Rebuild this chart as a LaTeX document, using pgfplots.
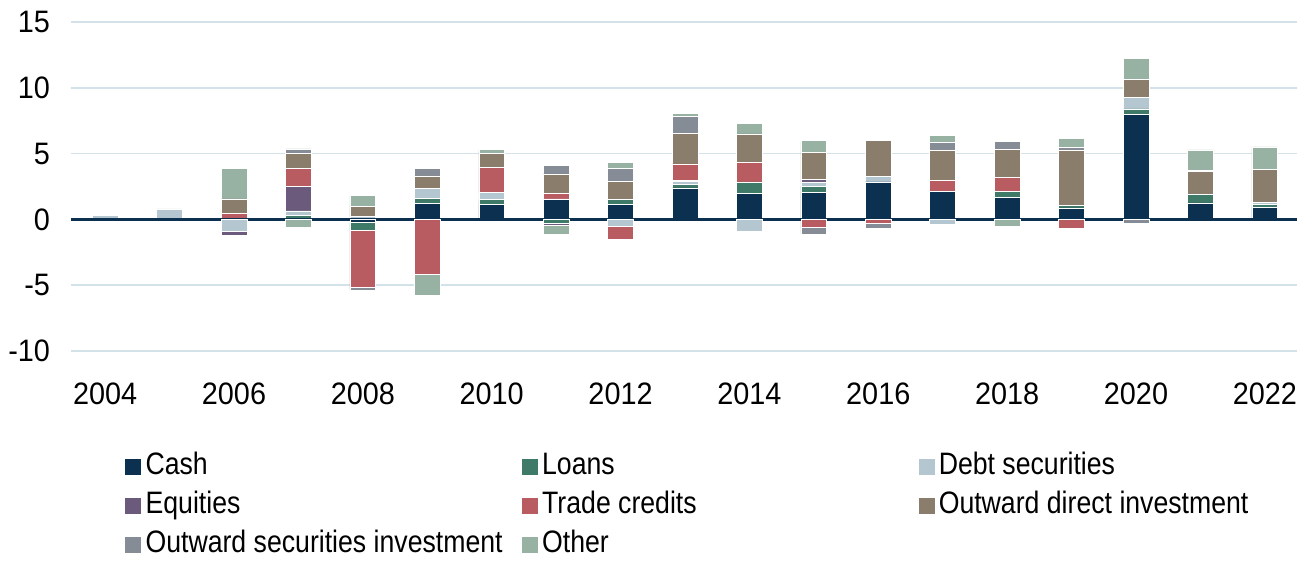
\documentclass[border=0pt]{standalone}
\usepackage{fontspec}
\setmainfont{Liberation Sans}[FakeStretch=0.86]
\newfontfamily\tickfont{Liberation Sans}[FakeStretch=0.93]
\usepackage{pgfplots}
\usepackage{pgfplotstable}
\pgfplotsset{compat=1.18}

\definecolor{ccash}{HTML}{0B3050}
\definecolor{cloans}{HTML}{3F7A68}
\definecolor{cdebt}{HTML}{B4C6D0}
\definecolor{ceq}{HTML}{6B5A7B}
\definecolor{ctrade}{HTML}{B85C62}
\definecolor{codi}{HTML}{8B7D6B}
\definecolor{cosi}{HTML}{858C96}
\definecolor{cother}{HTML}{97B1A3}
\definecolor{cgrid}{HTML}{D3E2E9}

\pgfplotstableread{
year cash loans debt eq trade odi osi other
2004 0 0 0.3 0 0 0 0 0
2005 0 0 0.8 0 0 0 0 0
2006 0 0 0 0 0.45 1.1 0 2.3
2007 0 0.3 0.35 1.85 1.4 1.1 0.35 0
2008 0 0 0.2 0 0 0.8 0 0.8
2009 1.2 0.4 0.75 0 0 0.95 0.6 0
2010 1.15 0.38 0.5 0 1.9 1.08 0 0.3
2011 1.5 0 0.05 0 0.4 1.5 0.65 0
2012 1.15 0.35 0 0 0 1.4 0.95 0.5
2013 2.4 0.25 0.22 0.1 1.25 2.3 1.3 0.25
2014 2.0 0.85 0 0 1.5 2.15 0 0.8
2015 2.07 0.43 0.33 0.18 0 2.1 0 0.88
2016 2.85 0 0.43 0 0 2.7 0 0
2017 2.1 0.05 0 0 0.8 2.3 0.58 0.58
2018 1.65 0.5 0 0 1.04 2.1 0.65 0
2019 0.88 0.2 0 0 0 4.17 0.25 0.68
2020 7.95 0.45 0.85 0 0 1.4 0 1.57
2021 1.26 0.63 0 0 0 1.77 0.05 1.57
2022 0.9 0.23 0.18 0 0 2.5 0 1.7
}\postable

\pgfplotstableread{
year cash loans debt eq trade odi osi other
2004 0 0 0 0 0 0 0 0
2005 0 0 0 0 0 0 0 0
2006 0 0 -0.9 -0.3 0 0 0 0
2007 0 0 0 0 0 0 0 -0.6
2008 -0.25 -0.58 0 0 -4.3 0 -0.26 0
2009 0 0 0 0 -4.2 0 0 -1.6
2010 0 0 0 0 0 0 0 0
2011 0 -0.3 0 -0.15 0 0 0 -0.7
2012 0 0 -0.55 0 -0.95 0 0 0
2013 0 0 0 0 0 0 0 0
2014 0 0 -0.9 0 0 0 0 0
2015 0 0 0 0 -0.6 0 -0.5 0
2016 0 0 0 0 -0.3 0 -0.38 0
2017 0 0 -0.4 0 0 0 0 0
2018 0 0 0 0 0 0 0 -0.5
2019 0 0 0 0 -0.7 0 0 0
2020 0 0 0 0 0 0 -0.3 0
2021 0 0 0 0 0 0 0 0
2022 0 0 0 0 0 0 0 0
}\negtable

\pgfplotsset{
  base/.style={
    scale only axis,
    width=613bp, height=164.5bp,
    xmin=2003.47, xmax=2022.5,
    ymin=-10, ymax=15,
    ybar stacked,
    bar width=0.4,
    axis line style={draw=none},
    major tick length=0pt,
    clip=false,
  },
  seg/.style={fill=#1, draw=white, line width=0.3bp,
    legend image code/.code={\fill[#1] (0bp,-4.5bp) rectangle (7.5bp,3bp);}},
}

\begin{document}
\begin{tikzpicture}
\path (-35.5bp,-105.5bp) rectangle (618bp,175.5bp);
\begin{axis}[base,
    tick label style={font=\tickfont\fontsize{15.5bp}{18bp}\selectfont},
    ymajorgrids,
    grid style={cgrid, line width=0.8bp},
    ytick={-10,-5,0,5,10,15},
    xtick={2004,2006,...,2022},
    /pgf/number format/assume math mode=true,
    /pgf/number format/1000 sep={},
    yticklabel style={xshift=-7bp},
    xticklabel style={yshift=-12.5bp},
    legend columns=3,
    legend cell align=left,
    legend style={at={(axis description cs:0,0)}, anchor=north west,
      xshift=24bp, yshift=-47bp, draw=none, fill=none,
      font=\fontsize{15.5bp}{18bp}\selectfont,
      row sep=3.7bp,
      nodes={inner sep=1.5bp}},
  ]
  \addplot[seg=ccash] table[x=year,y=cash]{\postable};
  \addplot[seg=cloans] table[x=year,y=loans]{\postable};
  \addplot[seg=cdebt] table[x=year,y=debt]{\postable};
  \addplot[seg=ceq] table[x=year,y=eq]{\postable};
  \addplot[seg=ctrade] table[x=year,y=trade]{\postable};
  \addplot[seg=codi] table[x=year,y=odi]{\postable};
  \addplot[seg=cosi] table[x=year,y=osi]{\postable};
  \addplot[seg=cother] table[x=year,y=other]{\postable};
  \legend{\makebox[187.5bp][l]{\hspace{0.8bp}Cash},\makebox[187.5bp][l]{\hspace{0.8bp}Loans},\hspace{0.8bp}Debt securities,
    \makebox[187.5bp][l]{\hspace{0.8bp}Equities},\makebox[187.5bp][l]{\hspace{0.8bp}Trade credits},\hspace{0.8bp}Outward direct investment,
    \makebox[187.5bp][l]{\hspace{0.8bp}Outward securities investment},\makebox[187.5bp][l]{\hspace{0.8bp}Other}}
\end{axis}
\begin{axis}[base, hide axis]
  \addplot[seg=ccash] table[x=year,y=cash]{\negtable};
  \addplot[seg=cloans] table[x=year,y=loans]{\negtable};
  \addplot[seg=cdebt] table[x=year,y=debt]{\negtable};
  \addplot[seg=ceq] table[x=year,y=eq]{\negtable};
  \addplot[seg=ctrade] table[x=year,y=trade]{\negtable};
  \addplot[seg=codi] table[x=year,y=odi]{\negtable};
  \addplot[seg=cosi] table[x=year,y=osi]{\negtable};
  \addplot[seg=cother] table[x=year,y=other]{\negtable};
  \draw[ccash, line width=1.5bp] (rel axis cs:0,0.4) -- (rel axis cs:1,0.4);
\end{axis}
\end{tikzpicture}
\end{document}
